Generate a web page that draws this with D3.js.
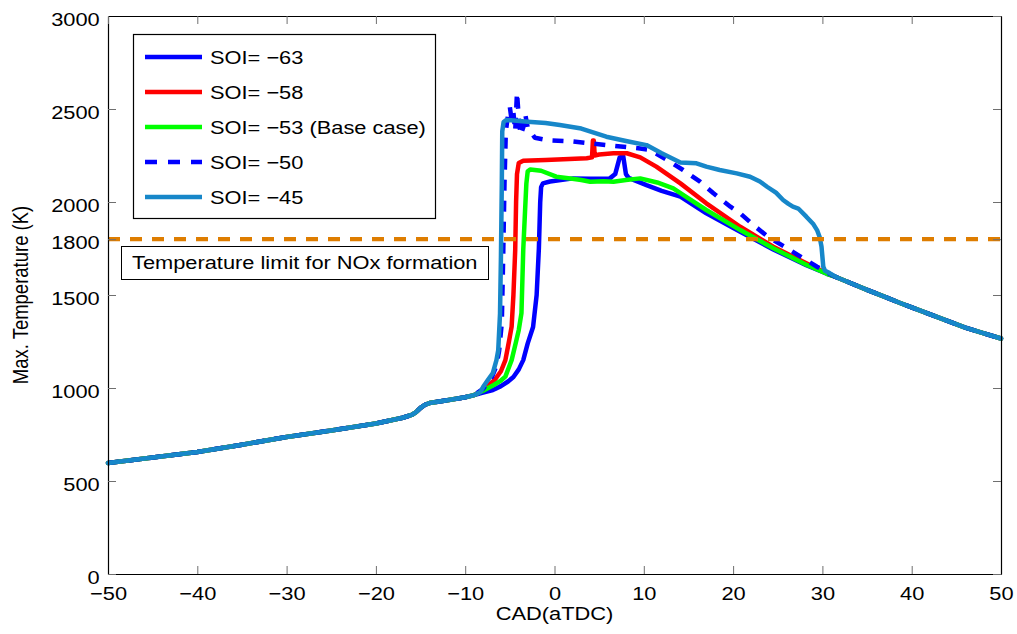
<!DOCTYPE html>
<html>
<head>
<meta charset="utf-8">
<script src="https://cdn.jsdelivr.net/npm/d3@7"></script>
<style>
  html, body { margin: 0; padding: 0; background: #fff; }
  svg { display: block; font-family: "Liberation Sans", Arial, Helvetica, sans-serif; }
</style>
</head>
<body>
<svg id="chart" width="1017" height="634"></svg>
<script>
// ---------------- DATA ----------------
const xTicks = [-50, -40, -30, -20, -10, 0, 10, 20, 30, 40, 50];
const yTicks = [0, 500, 1000, 1500, 1800, 2000, 2500, 3000];
const xLabel = "CAD(aTDC)";
const yLabel = "Max. Temperature (K)";
const limitValue = 1800;
const limitLabel = "Temperature limit for NOx formation";
const seriesNames = ["SOI= \u221263", "SOI= \u221258", "SOI= \u221253 (Base case)", "SOI= \u221250", "SOI= \u221245"];

// shared compression part (all cases coincide)
const baseCAD  = [-50, -45, -40, -35, -30, -25, -20, -17, -16, -15.5, -15, -14.5, -14, -12, -10, -9];
const baseTemp = [597, 626, 656, 695, 737, 772, 809, 840, 855, 870, 893, 910, 919, 934, 950, 962];

// shared expansion tail
const tailCAD  = [31.5, 33, 35, 37, 38.7, 40, 42, 44.3, 46, 48, 50];
const tailTemp = [1597, 1567, 1528, 1490, 1457, 1433, 1397, 1355, 1325, 1295, 1266];

// SOI = -63
const soi63CAD  = [-8, -6.9, -6, -5.2, -4.6, -4, -3.5, -3, -2.4, -2.0, -1.75, -1.6, -1.5, -1.3, -0.5, 2.1, 4, 6.2, 6.8, 7.3, 7.7, 8.0, 8.3, 10.3, 12, 14.1, 17, 20.8, 24.5, 28.2, 30.5];
const soi63Temp = [975, 989, 1010, 1035, 1059, 1100, 1150, 1240, 1328, 1500, 1750, 2000, 2080, 2100, 2110, 2127, 2125, 2127, 2150, 2240, 2245, 2150, 2130, 2091, 2060, 2029, 1939, 1840, 1745, 1660, 1614];

// SOI = -58
const soi58CAD  = [-8, -7.3, -6.7, -6, -5.5, -5.1, -4.8, -4.6, -4.4, -4.3, -4.2, -4.0, -3.5, -1, 1, 3.6, 4.2, 4.3, 4.4, 4.5, 5, 6.6, 8.1, 9.6, 11.4, 14.1, 17, 20.8, 24.5, 28.2, 30.5];
const soi58Temp = [989, 1020, 1043, 1090, 1150, 1250, 1330, 1500, 1742, 2000, 2150, 2210, 2222, 2226, 2230, 2235, 2240, 2330, 2330, 2250, 2255, 2262, 2262, 2240, 2190, 2100, 1993, 1867, 1760, 1670, 1617];

// SOI = -53 (base case)
const soi53CAD  = [-8, -6.8, -6, -5.5, -4.8, -4.3, -4.0, -3.7, -3.5, -3.3, -3.15, -3.0, -2.7, -1.5, 0.2, 2, 3, 4, 5.5, 6.6, 8, 9.6, 11.5, 13.3, 15, 17, 20.8, 24.5, 28.2, 30.5];
const soi53Temp = [985, 1016, 1040, 1061, 1150, 1250, 1312, 1403, 1742, 1950, 2100, 2165, 2175, 2168, 2136, 2125, 2118, 2109, 2112, 2109, 2118, 2127, 2105, 2073, 2020, 1957, 1849, 1751, 1663, 1614];

// SOI = -50
const soi50CAD  = [-8, -7, -6.5, -6.2, -5.9, -5.75, -5.6, -5.45, -5.2, -5.0, -4.8, -4.6, -4.4, -4.2, -4.0, -3.8, -3.5, -3.3, -3.0, -2.7, -2.2, -0.9, 2.1, 5.8, 9.6, 10.7, 12.6, 14.4, 16.3, 17.8, 19.7, 20.8, 22.5, 24, 26, 27.8, 29.4, 30.5];
const soi50Temp = [995, 1060, 1120, 1200, 1350, 1700, 2100, 2380, 2470, 2510, 2440, 2480, 2380, 2590, 2450, 2360, 2400, 2478, 2400, 2380, 2345, 2333, 2325, 2306, 2288, 2280, 2226, 2172, 2109, 2047, 1975, 1939, 1867, 1810, 1753, 1699, 1652, 1622];

// SOI = -45
const soi45CAD  = [-8.3, -8, -7.5, -6.9, -6.5, -6.3, -6.1, -6.0, -5.9, -5.85, -5.7, -5.4, -3, -1, 0.6, 3, 5.8, 8, 10.3, 12, 14.1, 15.9, 17, 18.5, 20.4, 21.9, 23, 23.8, 24.8, 25.6, 26.2, 26.7, 27.3, 28.2, 29, 29.4, 29.7, 29.9, 30.1, 30.3, 30.8];
const soi45Temp = [978, 1005, 1040, 1081, 1150, 1204, 1400, 1700, 2100, 2380, 2430, 2441, 2432, 2425, 2414, 2395, 2351, 2328, 2306, 2262, 2212, 2208, 2190, 2172, 2154, 2136, 2110, 2082, 2050, 2011, 1990, 1975, 1965, 1921, 1880, 1849, 1810, 1760, 1652, 1630, 1618];

// ---------------- STYLE ----------------
const colors = ["#0000ff", "#ff0000", "#00ff00", "#0000ff", "#1787c9"];
const dashes = [null, null, null, "11,10", null];
const limitColor = "#de7d00";
const FS = 18.5, SX = 1.18;

const W = 1017, H = 634;
const m = { left: 108, right: 1001, top: 16, bottom: 574 };

const svg = d3.select("#chart");
const x = d3.scaleLinear().domain([-50, 50]).range([m.left, m.right]);
const y = d3.scaleLinear().domain([0, 3000]).range([m.bottom, m.top]);

function buildSeries(cx, ct) {
  const pts = [];
  const x0 = cx[0], x1 = cx[cx.length - 1];
  baseCAD.forEach((v, i) => { if (v < x0) pts.push([v, baseTemp[i]]); });
  cx.forEach((v, i) => pts.push([v, ct[i]]));
  tailCAD.forEach((v, i) => { if (v > x1) pts.push([v, tailTemp[i]]); });
  return pts;
}
const series = [
  buildSeries(soi63CAD, soi63Temp),
  buildSeries(soi58CAD, soi58Temp),
  buildSeries(soi53CAD, soi53Temp),
  buildSeries(soi50CAD, soi50Temp),
  buildSeries(soi45CAD, soi45Temp)
];

svg.append("rect").attr("x", 0).attr("y", 0).attr("width", W).attr("height", H).attr("fill", "#fff");

// lines
const line = d3.line().x(d => x(d[0])).y(d => y(d[1]));
const gLines = svg.append("g");
series.forEach((s, i) => {
  gLines.append("path")
    .attr("d", line(s))
    .attr("fill", "none")
    .attr("stroke", colors[i])
    .attr("stroke-width", 4.5)
    .attr("stroke-linejoin", "round")
    .attr("stroke-linecap", dashes[i] ? "butt" : "round")
    .attr("stroke-dasharray", dashes[i]);
});

// limit line
svg.append("line")
  .attr("x1", x(-50)).attr("x2", x(50))
  .attr("y1", y(limitValue)).attr("y2", y(limitValue))
  .attr("stroke", limitColor).attr("stroke-width", 4.2)
  .attr("stroke-dasharray", "12,10");

// axes
const tickColor = "#6f6f6f";
const fmt = d3.format("d");
const gx = svg.append("g").attr("transform", `translate(0,${m.bottom})`)
  .call(d3.axisBottom(x).tickValues(xTicks).tickFormat(fmt).tickSizeInner(-8).tickSizeOuter(0).tickPadding(13));
const gy = svg.append("g").attr("transform", `translate(${m.left},0)`)
  .call(d3.axisLeft(y).tickValues(yTicks).tickFormat(fmt).tickSizeInner(-8).tickSizeOuter(0).tickPadding(7));
const gt = svg.append("g").attr("transform", `translate(0,${m.top})`)
  .call(d3.axisTop(x).tickValues(xTicks).tickSizeInner(-8).tickSizeOuter(0).tickFormat(""));
const gr = svg.append("g").attr("transform", `translate(${m.right},0)`)
  .call(d3.axisRight(y).tickValues(yTicks).tickSizeInner(-8).tickSizeOuter(0).tickFormat(""));

[gx, gy, gt, gr].forEach(g => {
  g.selectAll(".tick line").attr("stroke", tickColor).attr("stroke-width", 1);
  g.select(".domain").attr("stroke", "#000").attr("stroke-width", 1.2);
  g.selectAll("text").attr("fill", "#000").attr("font-size", FS)
    .attr("font-family", "'Liberation Sans', Arial, sans-serif");
});
gx.selectAll(".tick text").attr("transform", `scale(${SX},1)`);
gy.selectAll(".tick text").attr("dy", "0.49em").attr("transform", `scale(${SX},1)`);

// axis labels
svg.append("text")
  .attr("transform", `translate(${(m.left + m.right) / 2},620) scale(${SX},1)`)
  .attr("text-anchor", "middle").attr("font-size", FS).attr("fill", "#000")
  .text(xLabel);
svg.append("text")
  .attr("transform", `translate(28,${(m.top + m.bottom) / 2}) rotate(-90) scale(1,${SX})`)
  .attr("text-anchor", "middle").attr("font-size", FS).attr("fill", "#000")
  .text(yLabel);

// limit annotation box
svg.append("rect")
  .attr("x", 121.5).attr("y", 246.5).attr("width", 367).attr("height", 33)
  .attr("fill", "#fff").attr("stroke", "#000").attr("stroke-width", 1);
svg.append("text")
  .attr("transform", `translate(132,269) scale(${SX},1)`)
  .attr("font-size", FS).attr("fill", "#000")
  .text(limitLabel);

// legend
const lg = svg.append("g");
lg.append("rect")
  .attr("x", 133.5).attr("y", 34.5).attr("width", 302).attr("height", 184)
  .attr("fill", "#fff").attr("stroke", "#000").attr("stroke-width", 1.2);
seriesNames.forEach((name, i) => {
  const yy = 57 + i * 35;
  lg.append("line")
    .attr("x1", 145).attr("x2", 202).attr("y1", yy).attr("y2", yy)
    .attr("stroke", colors[i]).attr("stroke-width", 4.5)
    .attr("stroke-dasharray", dashes[i] ? "12,11" : null);
  lg.append("text")
    .attr("transform", `translate(210,${yy + 6.5}) scale(${SX},1)`)
    .attr("font-size", FS).attr("fill", "#000")
    .text(name);
});
</script>
</body>
</html>
